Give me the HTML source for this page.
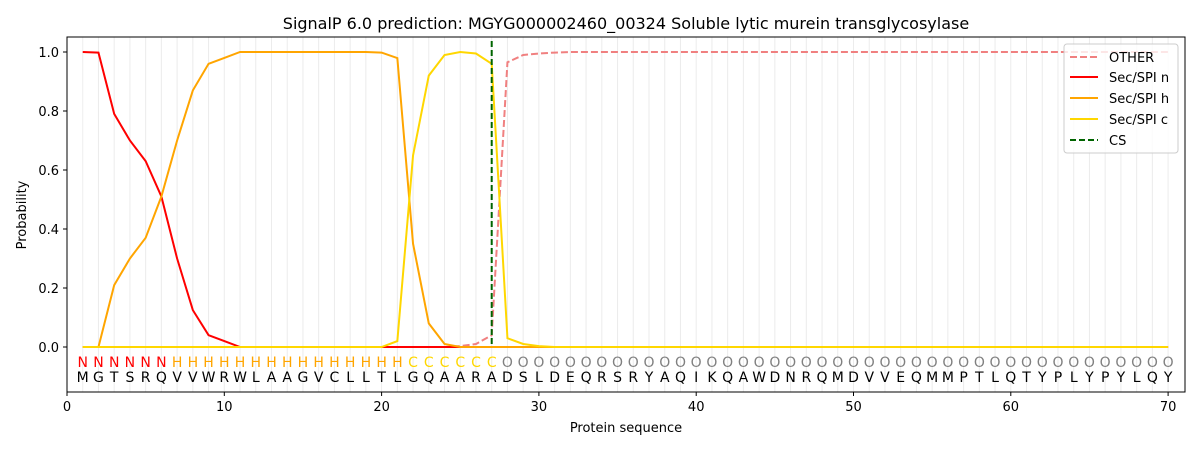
<!DOCTYPE html>
<html><head><meta charset="utf-8"><style>
html,body{margin:0;padding:0;background:#fff;}
svg{display:block;font-family:"DejaVu Sans","Liberation Sans",sans-serif;}
</style></head><body>
<svg width="1200" height="450" viewBox="0 0 1200 450" xmlns="http://www.w3.org/2000/svg">
<defs>
<pattern id="g" patternUnits="userSpaceOnUse" x="82.23" y="0" width="15.73" height="10">
<rect x="0" y="0" width="1" height="10" fill="#ebebeb"/>
</pattern>
</defs>
<rect x="0" y="0" width="1200" height="450" fill="#fff"/>
<rect x="82.2" y="37" width="1087" height="355" fill="url(#g)"/>
<text x="626" y="29" font-size="16" text-anchor="middle" fill="#000">SignalP 6.0 prediction: MGYG000002460_00324 Soluble lytic murein transglycosylase</text>

<polyline fill="none" stroke="#f08080" stroke-width="2" stroke-dasharray="7,3" points="82.73,347 444.52,347 460.25,346.1 475.98,344 491.71,335.2 507.44,62.3 523.17,55 538.9,53.5 554.63,52.6 570.36,52 1168.1,52"/>
<polyline fill="none" stroke="#ff0000" stroke-width="2" points="82.73,52 98.46,52.6 114.19,113.9 129.92,140.5 145.65,161.1 161.38,196.5 177.11,258.5 192.84,310.1 208.57,335.2 224.3,341.1 240.03,347 1168.1,347"/>
<polyline fill="none" stroke="#ffa500" stroke-width="2" points="82.73,347 98.46,347 114.19,285.1 129.92,258.5 145.65,237.8 161.38,196.5 177.11,140.5 192.84,90.4 208.57,63.8 224.3,57.9 240.03,52 365.87,52 381.6,52.6 397.33,58.1 413.06,243.8 428.79,323.4 444.52,344 460.25,347 1168.1,347"/>
<polyline fill="none" stroke="#ffd700" stroke-width="2" points="82.73,347 381.6,347 397.33,341.1 413.06,155.3 428.79,75.6 444.52,55 460.25,52 475.98,53.5 491.71,63.8 507.44,338.2 523.17,344 538.9,346.1 554.63,347 1168.1,347"/>
<line x1="491.71" y1="41" x2="491.71" y2="347" stroke="#006400" stroke-width="2" stroke-dasharray="6,3"/>

<rect x="67" y="37" width="1118" height="355" fill="none" stroke="#000" stroke-width="1"/>

<text y="367" font-size="14" text-anchor="middle">
<tspan fill="#ff0000" x="82.73 98.46 114.19 129.92 145.65 161.38">NNNNNN</tspan><tspan fill="#ffa500" x="177.11 192.84 208.57 224.3 240.03 255.76 271.49 287.22 302.95 318.68 334.41 350.14 365.87 381.6 397.33">HHHHHHHHHHHHHHH</tspan><tspan fill="#ffd700" x="413.06 428.79 444.52 460.25 475.98 491.71">CCCCCC</tspan><tspan fill="#808080" x="507.44 523.17 538.9 554.63 570.36 586.09 601.82 617.55 633.28 649.01 664.74 680.47 696.2 711.93 727.66 743.39 759.12 774.85 790.58 806.31 822.04 837.77 853.5 869.23 884.96 900.69 916.42 932.15 947.88 963.61 979.34 995.07 1010.8 1026.53 1042.26 1057.99 1073.72 1089.45 1105.18 1120.91 1136.64 1152.37 1168.1">OOOOOOOOOOOOOOOOOOOOOOOOOOOOOOOOOOOOOOOOOOO</tspan>
</text>
<text y="382" font-size="14" text-anchor="middle" fill="#000" x="82.73 98.46 114.19 129.92 145.65 161.38 177.11 192.84 208.57 224.3 240.03 255.76 271.49 287.22 302.95 318.68 334.41 350.14 365.87 381.6 397.33 413.06 428.79 444.52 460.25 475.98 491.71 507.44 523.17 538.9 554.63 570.36 586.09 601.82 617.55 633.28 649.01 664.74 680.47 696.2 711.93 727.66 743.39 759.12 774.85 790.58 806.31 822.04 837.77 853.5 869.23 884.96 900.69 916.42 932.15 947.88 963.61 979.34 995.07 1010.8 1026.53 1042.26 1057.99 1073.72 1089.45 1105.18 1120.91 1136.64 1152.37 1168.1">MGTSRQVVWRWLAAGVCLLTLGQAARADSLDEQRSRYAQIKQAWDNRQMDVVEQMMPTLQTYPLYPYLQY</text>

<g stroke="#000" stroke-width="1">
<line x1="67" y1="392" x2="67" y2="396"/><line x1="224.3" y1="392" x2="224.3" y2="396"/><line x1="381.6" y1="392" x2="381.6" y2="396"/><line x1="538.9" y1="392" x2="538.9" y2="396"/><line x1="696.2" y1="392" x2="696.2" y2="396"/><line x1="853.5" y1="392" x2="853.5" y2="396"/><line x1="1010.8" y1="392" x2="1010.8" y2="396"/><line x1="1168.1" y1="392" x2="1168.1" y2="396"/>
<line x1="63" y1="347" x2="67" y2="347"/><line x1="63" y1="288" x2="67" y2="288"/><line x1="63" y1="229" x2="67" y2="229"/><line x1="63" y1="170" x2="67" y2="170"/><line x1="63" y1="111" x2="67" y2="111"/><line x1="63" y1="52" x2="67" y2="52"/>
</g>
<g font-size="13" fill="#000" text-anchor="middle">
<text x="67" y="411">0</text><text x="224.3" y="411">10</text><text x="381.6" y="411">20</text><text x="538.9" y="411">30</text><text x="696.2" y="411">40</text><text x="853.5" y="411">50</text><text x="1010.8" y="411">60</text><text x="1168.1" y="411">70</text>
</g>
<g font-size="13" fill="#000" text-anchor="end">
<text x="59" y="352">0.0</text><text x="59" y="293">0.2</text><text x="59" y="234">0.4</text><text x="59" y="175">0.6</text><text x="59" y="116">0.8</text><text x="59" y="57">1.0</text>
</g>
<text x="626" y="432" font-size="13" text-anchor="middle">Protein sequence</text>
<text x="0" y="0" font-size="13" text-anchor="middle" transform="translate(26,215) rotate(-90)">Probability</text>

<rect x="1064" y="44" width="114" height="109" rx="3" fill="#fff" fill-opacity="0.8" stroke="#ccc"/>
<line x1="1070" y1="57" x2="1098" y2="57" stroke="#f08080" stroke-width="2" stroke-dasharray="7,3"/>
<line x1="1070" y1="77" x2="1098" y2="77" stroke="#ff0000" stroke-width="2"/>
<line x1="1070" y1="98" x2="1098" y2="98" stroke="#ffa500" stroke-width="2"/>
<line x1="1070" y1="119" x2="1098" y2="119" stroke="#ffd700" stroke-width="2"/>
<line x1="1070" y1="140" x2="1098" y2="140" stroke="#006400" stroke-width="2" stroke-dasharray="6,3"/>
<g font-size="13" fill="#000">
<text x="1109" y="62">OTHER</text><text x="1109" y="82">Sec/SPI n</text><text x="1109" y="103">Sec/SPI h</text><text x="1109" y="124">Sec/SPI c</text><text x="1109" y="145">CS</text>
</g>
</svg>
</body></html>
